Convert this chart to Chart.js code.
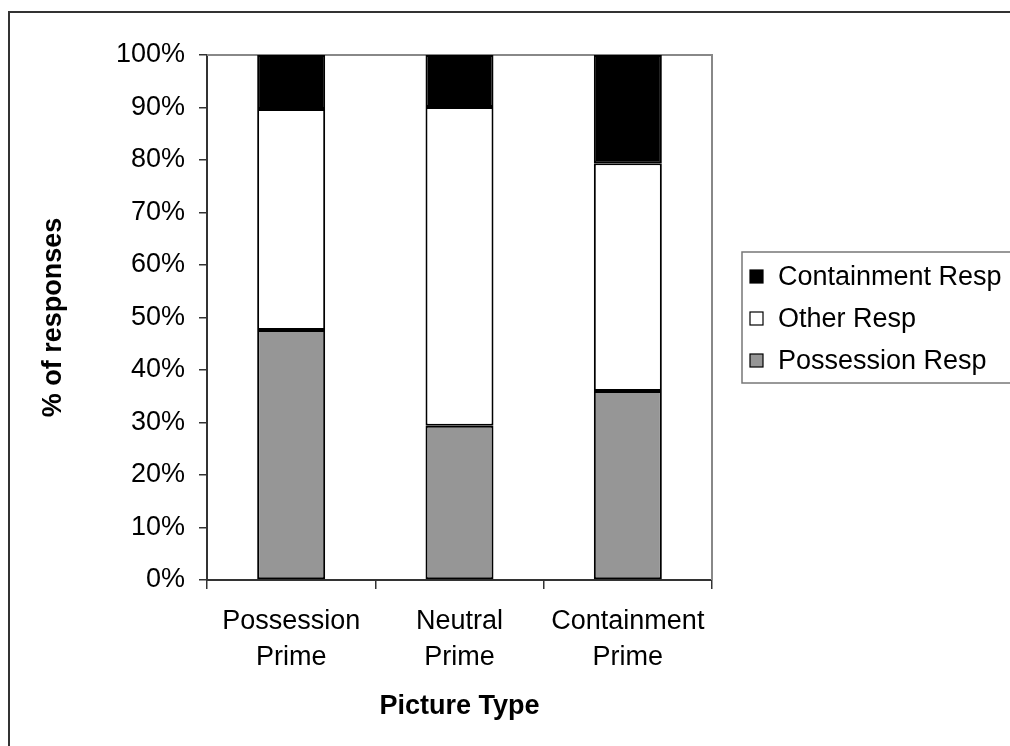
<!DOCTYPE html>
<html>
<head>
<meta charset="utf-8">
<script src="https://cdn.jsdelivr.net/npm/chart.js@4.4.1/dist/chart.umd.min.js"></script>
<style>
  html, body { margin: 0; padding: 0; background: #fff; }
  #wrap { position: relative; width: 1010px; height: 746px; }
</style>
</head>
<body>
<div id="wrap"><canvas id="c" width="1010" height="746"></canvas></div>
<script>
const categories = [["Possession", "Prime"], ["Neutral", "Prime"], ["Containment", "Prime"]];
const possessionResp = [47.6, 29.4, 36.0];
const otherResp = [42.1, 60.7, 43.4];
const containmentResp = [10.3, 9.9, 20.6];
const yTicks = [0, 10, 20, 30, 40, 50, 60, 70, 80, 90, 100];
const seriesNames = ["Possession Resp", "Other Resp", "Containment Resp"];

const FONT = "'Liberation Sans', Arial, sans-serif";

const framePlugin = {
  id: 'frame',
  beforeDraw(chart) {
    const ctx = chart.ctx;
    ctx.save();
    ctx.fillStyle = '#fff';
    ctx.fillRect(0, 0, chart.width, chart.height);
    // outer chart border
    ctx.strokeStyle = '#333';
    ctx.lineWidth = 2;
    ctx.strokeRect(9, 12, 1020, 760);
    ctx.restore();
  },
  beforeDatasetsDraw(chart) {
    const ctx = chart.ctx;
    const a = chart.chartArea;
    ctx.save();
    ctx.strokeStyle = '#888';
    ctx.lineWidth = 2;
    ctx.beginPath();
    ctx.moveTo(a.left, a.top);
    ctx.lineTo(a.right, a.top);
    ctx.lineTo(a.right, a.bottom);
    ctx.stroke();
    ctx.restore();
  },
  afterDraw(chart) {
    const ctx = chart.ctx;
    ctx.save();
    // legend box
    ctx.strokeStyle = '#777';
    ctx.lineWidth = 1.5;
    ctx.strokeRect(742, 252, 300, 131);
    const ds = chart.data.datasets.slice().reverse();
    ctx.font = '27px ' + FONT;
    ctx.textBaseline = 'middle';
    ctx.textAlign = 'left';
    ds.forEach((d, i) => {
      const cy = 277 + i * 42;
      ctx.fillStyle = d.backgroundColor;
      ctx.fillRect(750, cy - 7, 13, 13);
      ctx.strokeStyle = '#000';
      ctx.lineWidth = 1.2;
      ctx.strokeRect(750, cy - 7, 13, 13);
      ctx.fillStyle = '#000';
      ctx.fillText(d.label, 778, cy + 1);
    });
    ctx.restore();
  }
};

new Chart(document.getElementById('c'), {
  type: 'bar',
  data: {
    labels: categories,
    datasets: [
      { label: seriesNames[0], data: possessionResp, backgroundColor: '#969696', borderColor: '#000', borderWidth: 2, borderSkipped: false },
      { label: seriesNames[1], data: otherResp, backgroundColor: '#ffffff', borderColor: '#000', borderWidth: 2, borderSkipped: false },
      { label: seriesNames[2], data: containmentResp, backgroundColor: '#000000', borderColor: '#000', borderWidth: 2, borderSkipped: false }
    ]
  },
  options: {
    responsive: false,
    animation: false,
    events: [],
    layout: { padding: { top: 55, right: 298, left: 0, bottom: 0 } },
    datasets: { bar: { categoryPercentage: 1, barPercentage: 0.404 } },
    plugins: { legend: { display: false }, tooltip: { enabled: false }, title: { display: false } },
    scales: {
      x: {
        stacked: true,
        afterFit(s) { s.height = 166; },
        border: { color: '#333', width: 2 },
        grid: { drawOnChartArea: false, tickLength: 9, color: '#333', lineWidth: 1.5, offset: true },
        ticks: { color: '#000', padding: 15, maxRotation: 0, autoSkip: false, font: { family: FONT, size: 27, lineHeight: 1.33 } },
        title: { display: true, text: 'Picture Type', color: '#000', font: { family: FONT, size: 27, weight: 'bold', lineHeight: 1.2 }, padding: { top: 0, bottom: 23 } }
      },
      y: {
        stacked: true,
        min: 0, max: 100,
        afterFit(s) { s.width = 207; },
        afterBuildTicks(s) { s.ticks = yTicks.map(v => ({ value: v })); },
        border: { color: '#333', width: 2 },
        grid: { drawOnChartArea: false, tickLength: 8, color: '#333', lineWidth: 1.5 },
        ticks: { color: '#000', padding: 14, callback: v => v + '%', font: { family: FONT, size: 27 } },
        title: { display: true, text: '% of responses', color: '#000', font: { family: FONT, size: 27, weight: 'bold', lineHeight: 1.2 }, padding: { top: 37, bottom: 0 } }
      }
    }
  },
  plugins: [framePlugin]
});
</script>
</body>
</html>
